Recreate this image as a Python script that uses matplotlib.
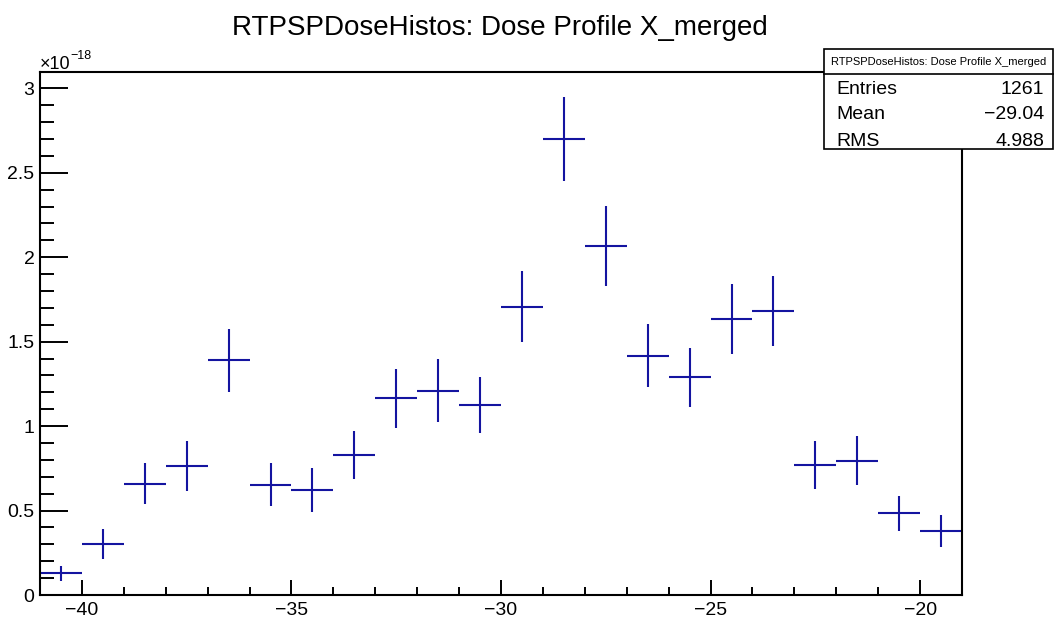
import numpy as np
import matplotlib.pyplot as plt
from matplotlib.ticker import MultipleLocator, FuncFormatter

# bin centres (mm) and dose values in units of 1e-18
x_centres = [-40.5, -39.5, -38.5, -37.5, -36.5, -35.5, -34.5, -33.5, -32.5, -31.5, -30.5,
             -29.5, -28.5, -27.5, -26.5, -25.5, -24.5, -23.5, -22.5, -21.5, -20.5, -19.5]
dose_e18 = [0.128, 0.304, 0.660, 0.763, 1.389, 0.654, 0.622, 0.828, 1.164, 1.209, 1.124,
            1.707, 2.700, 2.068, 1.417, 1.288, 1.634, 1.683, 0.771, 0.796, 0.484, 0.379]
err_e18 = [0.044, 0.089, 0.120, 0.147, 0.185, 0.128, 0.130, 0.141, 0.173, 0.187, 0.165,
           0.210, 0.250, 0.237, 0.188, 0.177, 0.209, 0.207, 0.141, 0.146, 0.105, 0.092]
bin_width = 1.0

title = "RTPSPDoseHistos: Dose Profile X_merged"
stats_labels = ["Entries", "Mean", "RMS"]
stats_values = ["1261", "\u221229.04", "4.988"]

plt.rcParams['font.family'] = ["Liberation Sans", "DejaVu Sans"]

fig = plt.figure(figsize=(10.6, 6.21), dpi=100)
ax = fig.add_axes([40 / 1060, 26 / 621, 922 / 1060, 523 / 621])

line_col = '#1414a0'
ax.errorbar(x_centres, dose_e18, xerr=bin_width / 2, yerr=err_e18, fmt='none',
            ecolor=line_col, elinewidth=1.5, capsize=0)

ax.set_xlim(-41, -19)
ax.set_ylim(0, 3.097)

ax.xaxis.set_major_locator(MultipleLocator(5))
ax.xaxis.set_minor_locator(MultipleLocator(1))
ax.yaxis.set_major_locator(MultipleLocator(0.5))
ax.yaxis.set_minor_locator(MultipleLocator(0.1))
ax.yaxis.set_major_formatter(FuncFormatter(lambda v, p: '%g' % v))
ax.xaxis.set_major_formatter(FuncFormatter(lambda v, p: ('%g' % v).replace('-', '\u2212')))

# tick lengths given in points (px * 0.72 at dpi 100)
ax.tick_params(axis='both', which='both', direction='in', width=1.4, labelsize=14,
               top=False, right=False)
ax.tick_params(axis='x', which='major', length=11, pad=5)
ax.tick_params(axis='x', which='minor', length=6)
ax.tick_params(axis='y', which='major', length=20, pad=4)
ax.tick_params(axis='y', which='minor', length=10)
for s in ax.spines.values():
    s.set_linewidth(1.5)

# exponent label like ROOT
fig.text(40 / 1060, 1 - 69 / 621, "\u00d710", fontsize=13, ha='left', va='baseline')
fig.text(70 / 1060, 1 - 59 / 621, "\u221218", fontsize=9, ha='left', va='baseline')

fig.text(500 / 1060, 1 - 28 / 621, title, fontsize=20, ha='center', va='center')

# stats box
bx0, by0, bx1, by1 = 824, 49, 1053, 149
sep = 74
box = plt.Rectangle((bx0 / 1060, 1 - by1 / 621), (bx1 - bx0) / 1060, (by1 - by0) / 621,
                    transform=fig.transFigure, facecolor='white', edgecolor='black',
                    linewidth=1.2, zorder=5)
fig.add_artist(box)
fig.add_artist(plt.Line2D([bx0 / 1060, bx1 / 1060], [1 - sep / 621, 1 - sep / 621],
                          transform=fig.transFigure, color='black', linewidth=1.2, zorder=6))
fig.text((bx0 + bx1) / 2 / 1060, 1 - 62 / 621, title, fontsize=8, ha='center', va='center',
         zorder=7)
row_y = [89, 115, 141]
for lab, val, yy in zip(stats_labels, stats_values, row_y):
    fig.text((bx0 + 12) / 1060, 1 - yy / 621, lab, fontsize=14, ha='left', va='center', zorder=7)
    fig.text((bx1 - 9) / 1060, 1 - yy / 621, val, fontsize=14, ha='right', va='center', zorder=7)

fig.savefig('out.png', dpi=100)
